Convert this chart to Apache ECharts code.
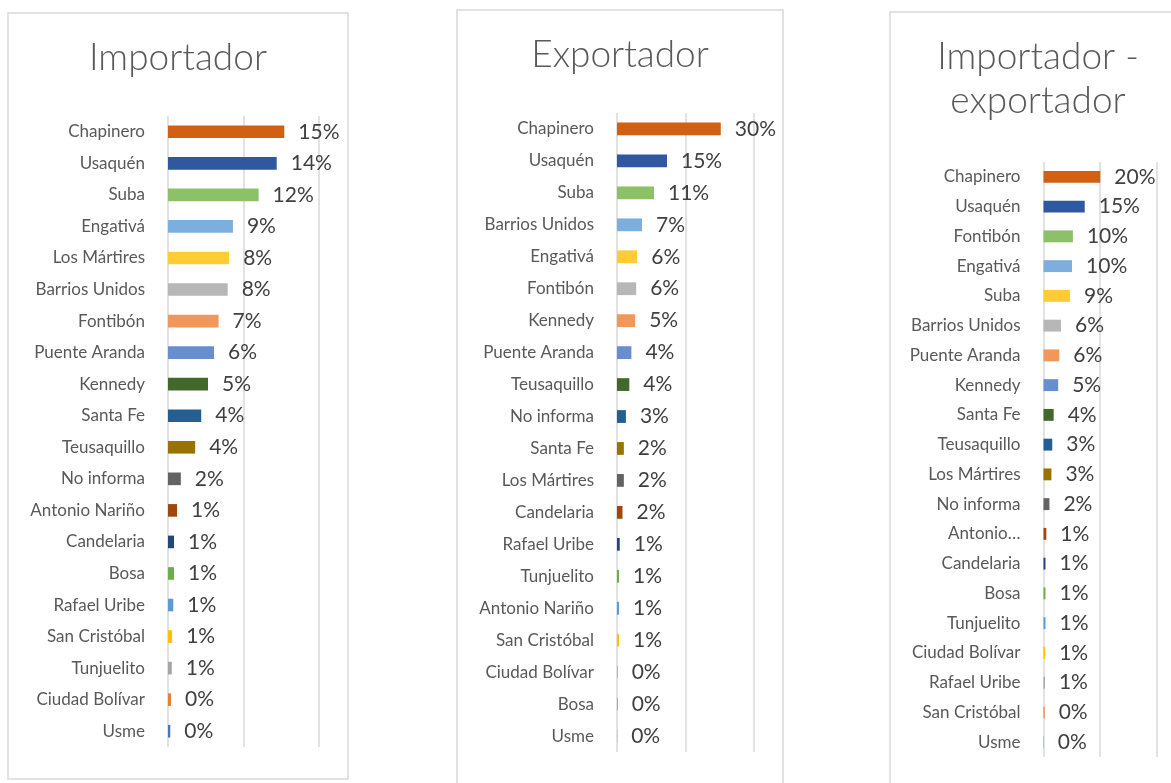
<!DOCTYPE html>
<html>
<head>
<meta charset="utf-8">
<script src="https://cdn.jsdelivr.net/npm/echarts@6/dist/echarts.min.js"></script>
<style>
  html, body { margin: 0; padding: 0; background: #fff; }
  #chart { width: 1171px; height: 783px; }
</style>
</head>
<body>
<div id="chart"></div>
<script>
// Share of companies by locality (percent), listed top to bottom as drawn.
const importadorCats = ['Chapinero', 'Usaquén', 'Suba', 'Engativá', 'Los Mártires', 'Barrios Unidos',
  'Fontibón', 'Puente Aranda', 'Kennedy', 'Santa Fe', 'Teusaquillo', 'No informa', 'Antonio Nariño',
  'Candelaria', 'Bosa', 'Rafael Uribe', 'San Cristóbal', 'Tunjuelito', 'Ciudad Bolívar', 'Usme'];
const importadorVals = [15.4, 14.4, 12.0, 8.6, 8.1, 7.9, 6.7, 6.1, 5.3, 4.4, 3.6, 1.7, 1.2,
  0.8, 0.8, 0.7, 0.55, 0.5, 0.4, 0.3];

const exportadorCats = ['Chapinero', 'Usaquén', 'Suba', 'Barrios Unidos', 'Engativá', 'Fontibón',
  'Kennedy', 'Puente Aranda', 'Teusaquillo', 'No informa', 'Santa Fe', 'Los Mártires', 'Candelaria',
  'Rafael Uribe', 'Tunjuelito', 'Antonio Nariño', 'San Cristóbal', 'Ciudad Bolívar', 'Bosa', 'Usme'];
const exportadorVals = [30.3, 14.6, 10.8, 7.3, 5.9, 5.6, 5.3, 4.2, 3.6, 2.6, 2.0, 2.0, 1.6,
  0.8, 0.6, 0.6, 0.6, 0.2, 0.2, 0.05];

const mixtoCats = ['Chapinero', 'Usaquén', 'Fontibón', 'Engativá', 'Suba', 'Barrios Unidos',
  'Puente Aranda', 'Kennedy', 'Santa Fe', 'Teusaquillo', 'Los Mártires', 'No informa', 'Antonio Nariño',
  'Candelaria', 'Bosa', 'Tunjuelito', 'Ciudad Bolívar', 'Rafael Uribe', 'San Cristóbal', 'Usme'];
const mixtoVals = [20.1, 14.6, 10.4, 10.1, 9.4, 6.2, 5.6, 5.2, 3.6, 3.1, 2.8, 2.1, 1.0,
  0.7, 0.7, 0.7, 0.6, 0.5, 0.4, 0.1];
// Shortened category labels in the narrow third panel
const mixtoShortLabels = { 'Antonio Nariño': 'Antonio…' };

const panelTitles = ['Importador', 'Exportador', 'Importador -\nexportador'];

// Office point palette, assigned from the bottom bar upward
const pointColors = ['#4472C4', '#ED7D31', '#A5A5A5', '#FFC000', '#5B9BD5', '#70AD47',
  '#264478', '#9E480E', '#636363', '#997300', '#255E91', '#43682B',
  '#698ED0', '#F1975A', '#B7B7B7', '#FFCD33', '#7CAFDD', '#8CC168',
  '#2F58A0', '#D26012'];

const FONT = 'Lato, "Open Sans", sans-serif';

const panels = [
  { cats: importadorCats, vals: importadorVals, max: 20, interval: 10,
    grid: { left: 168, top: 116, width: 151, height: 631 },
    box: { x: 8, y: 13, w: 340, h: 766 }, title: { x: 178, y: 58 } },
  { cats: exportadorCats, vals: exportadorVals, max: 40, interval: 20,
    grid: { left: 617, top: 113, width: 137, height: 639 },
    box: { x: 457, y: 10, w: 326, h: 800 }, title: { x: 620, y: 55 } },
  { cats: mixtoCats, vals: mixtoVals, max: 40, interval: 20, short: mixtoShortLabels,
    grid: { left: 1043.5, top: 162, width: 113, height: 595 },
    box: { x: 890, y: 12, w: 300, h: 800 }, title: { x: 1038, y: 79 } }
];

const grids = [], xAxes = [], yAxes = [], series = [], graphics = [];

panels.forEach((p, i) => {
  const n = p.cats.length;
  grids.push(Object.assign({ containLabel: false }, p.grid));
  xAxes.push({
    type: 'value', gridIndex: i, min: 0, max: p.max, interval: p.interval,
    axisLabel: { show: false }, axisTick: { show: false }, axisLine: { show: false },
    splitLine: { show: true, lineStyle: { color: '#D9D9D9', width: 1.5 } }
  });
  yAxes.push({
    type: 'category', gridIndex: i, data: p.cats, inverse: true,
    axisLine: { show: false }, axisTick: { show: false },
    axisLabel: {
      color: '#595959', fontFamily: FONT, fontSize: 17, margin: 23,
      formatter: v => (p.short && p.short[v]) ? p.short[v] : v
    }
  });
  series.push({
    type: 'bar', xAxisIndex: i, yAxisIndex: i, barWidth: '40%',
    data: p.vals.map((v, k) => ({ value: v, itemStyle: { color: pointColors[n - 1 - k] } })),
    label: {
      show: true, position: 'right', distance: 14,
      color: '#404040', fontFamily: FONT, fontSize: 21,
      formatter: d => Math.round(d.value) + '%'
    },
    animation: false
  });
  graphics.push({
    type: 'rect', shape: { x: p.box.x, y: p.box.y, width: p.box.w, height: p.box.h },
    style: { fill: null, stroke: '#D9D9D9', lineWidth: 1.5 }, silent: true
  });
  graphics.push({
    type: 'text', x: p.title.x, y: p.title.y,
    style: {
      text: panelTitles[i], fill: '#595959', font: '300 37px ' + FONT,
      align: 'center', verticalAlign: 'middle', lineHeight: 44
    }
  });
});

const chart = echarts.init(document.getElementById('chart'), null, { renderer: 'canvas' });
chart.setOption({
  animation: false,
  grid: grids, xAxis: xAxes, yAxis: yAxes, series: series, graphic: graphics
});
</script>
</body>
</html>
